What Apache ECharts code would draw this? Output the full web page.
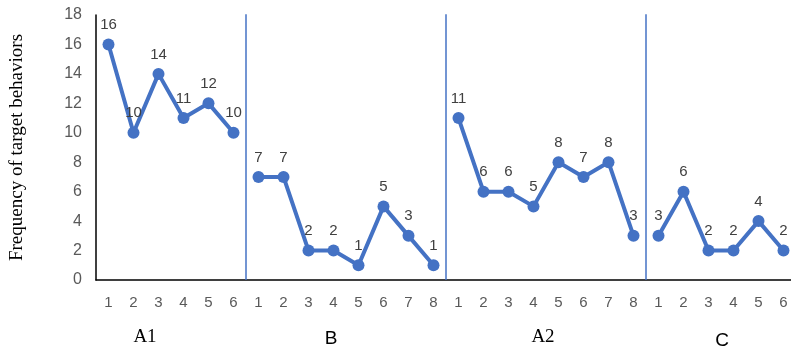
<!DOCTYPE html>
<html><head><meta charset="utf-8">
<script src="https://cdn.jsdelivr.net/npm/echarts@6/dist/echarts.min.js"></script>
<style>html,body{margin:0;padding:0;background:#fff}#c{width:791px;height:350px}</style>
</head><body><div id="c"></div>
<script>
const sessionLabels = ['1','2','3','4','5','6','1','2','3','4','5','6','7','8','1','2','3','4','5','6','7','8','1','2','3','4','5','6'];
const phaseNames = ['A1','B','A2','C'];
const valuesA1 = [16, 10, 14, 11, 12, 10];
const valuesB = [7, 7, 2, 2, 1, 5, 3, 1];
const valuesA2 = [11, 6, 6, 5, 8, 7, 8, 3];
const valuesC = [3, 6, 2, 2, 4, 2];
const yTicks = [0, 18, 2];

const phaseValues = [valuesA1, valuesB, valuesA2, valuesC];
const total = sessionLabels.length;
const blue = '#4472C4';

const series = [];
let offset = 0;
phaseValues.forEach((vals, i) => {
  const data = new Array(total).fill('-');
  vals.forEach((v, j) => { data[offset + j] = v; });
  series.push({
    type: 'line', data: data, connectNulls: false,
    symbol: 'circle', symbolSize: 12,
    itemStyle: { color: blue },
    lineStyle: { color: blue, width: 4 },
    label: { show: true, position: 'top', distance: 6, color: '#404040', fontSize: 15, fontFamily: 'Liberation Sans, Arial' },
    z: 3
  });
  offset += vals.length;
  if (i < phaseValues.length - 1) {
    series.push({
      type: 'line', xAxisIndex: 1, yAxisIndex: 0,
      data: [[offset, 0], [offset, 18.1]],
      symbol: 'none', silent: true,
      lineStyle: { color: blue, width: 1.5 }, z: 1
    });
  }
});

const chart = echarts.init(document.getElementById('c'), null, { renderer: 'canvas' });
chart.setOption({
  animation: false,
  backgroundColor: '#fff',
  grid: { left: 96, width: 700, top: 15, bottom: 70, containLabel: false, outerBoundsMode: 'none' },
  xAxis: [{
    type: 'category', data: sessionLabels, boundaryGap: true,
    axisLine: { lineStyle: { color: '#000', width: 1.5 } },
    axisTick: { show: false },
    axisLabel: { color: '#595959', fontSize: 15, margin: 15, fontFamily: 'Liberation Sans, Arial', interval: 0 }
  }, {
    type: 'value', min: 0, max: total, show: false
  }],
  yAxis: {
    type: 'value', min: yTicks[0], max: yTicks[1], interval: yTicks[2],
    name: 'Frequency of target behaviors', nameLocation: 'middle', nameGap: 69, nameRotate: 90,
    nameTextStyle: { fontFamily: 'Liberation Serif, Times New Roman', fontSize: 19, color: '#000' },
    axisLine: { show: true, lineStyle: { color: '#000', width: 1.5 } },
    axisTick: { show: false },
    splitLine: { show: false },
    axisLabel: { color: '#595959', fontSize: 16, margin: 14, fontFamily: 'Liberation Sans, Arial' }
  },
  series: series
});

const phaseFonts = ['Liberation Serif, Times New Roman', 'Liberation Sans, Arial', 'Liberation Serif, Times New Roman', 'Liberation Sans, Arial'];
const phaseX = [145, 331, 543, 722];
const phaseY = [337, 339, 337, 341];
chart.setOption({
  graphic: phaseNames.map((n, i) => ({
    type: 'text', x: phaseX[i], y: phaseY[i],
    style: { text: n, font: '19px ' + phaseFonts[i], fill: '#000', textAlign: 'center', textVerticalAlign: 'middle' }
  }))
});
</script></body></html>
